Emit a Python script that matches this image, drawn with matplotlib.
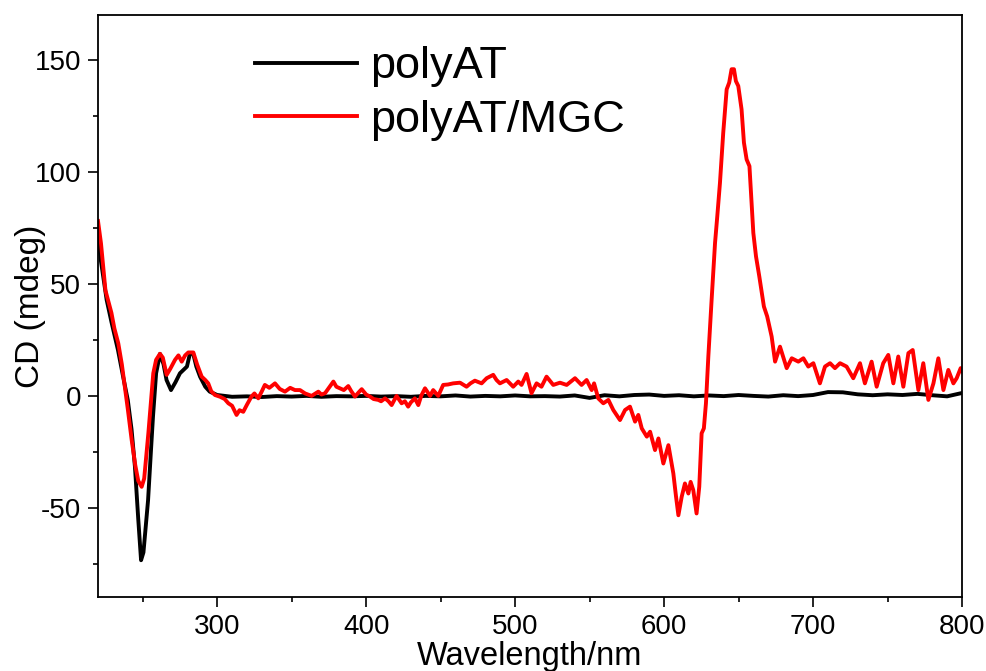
import matplotlib
matplotlib.use("Agg")
import matplotlib.pyplot as plt
from matplotlib.ticker import MultipleLocator

plt.rcParams['font.family'] = ['Liberation Sans', 'DejaVu Sans']
plt.rcParams['axes.unicode_minus'] = False

# polyAT/MGC (red), values
wl_mgc = [220, 222, 225, 227, 229, 231, 233.6, 236, 238, 240, 242.6, 245, 247, 249.3, 251,
          253.8, 255.5, 257.1, 259, 261.6, 263.5, 266.1, 268.5, 271.7, 274, 276.2, 278.5,
          280.6, 284, 286.5, 289.6, 292, 294, 296, 298.5, 302, 305, 307.5, 310, 313, 315,
          317.5, 320, 323, 325, 327.6, 330, 332, 335, 338.8, 342, 345.5, 349, 352.2, 355.6,
          359, 363.4, 367.9, 370, 372.4, 375, 378, 380, 382.4, 385, 388, 390, 392.5, 395,
          397, 400, 402.6, 405, 408.2, 410, 412.7, 415, 417.1, 420.4, 423.8, 426, 428.2, 430,
          432.7, 435, 437, 439.5, 442.9, 445, 448.4, 451.7, 455, 458.4, 463, 465, 467.4, 470,
          473, 477.5, 480.9, 485.3, 487.5, 489.8, 494.3, 498.7, 502.1, 504.3, 507.7, 511,
          514.4, 517.7, 521.1, 525.6, 530.1, 534.6, 540.2, 544.6, 548, 551.4, 553, 555.8,
          559.2, 562.6, 565.9, 570.4, 573.8, 577.1, 580.5, 582.7, 585, 588.4, 590.6, 593.9,
          596.2, 599.5, 602.9, 606.2, 608, 609.6, 611.8, 614, 616.3, 617.8, 619.6, 621.8,
          623.6, 625.2, 626.7, 628.1, 629.7, 631.9, 634.2, 635.7, 637.5, 639.7, 642, 643.7,
          645.3, 646.9, 648.2, 649.8, 652, 653.6, 655.4, 657.3, 659.9, 661.7, 663.9, 667,
          669.2, 672.2, 674.5, 677.8, 682.3, 685.7, 690.1, 693.5, 696.8, 700.2, 704.6, 708,
          711.4, 714.7, 718.1, 722.5, 727, 731.5, 734.8, 739.3, 742.7, 747.1, 750.5, 753.9,
          757.2, 760.6, 764, 766.9, 770.7, 774, 777.4, 780.8, 784.1, 787.5, 790.8, 794.2,
          796.4, 799.1, 800]
cd_mgc = [78, 68, 47, 42, 37, 30, 23.4, 14, 4, -6, -19.8, -31, -38, -40.7, -37,
          -16.8, -3, 10, 16, 18.7, 17, 9.3, 12, 16, 18, 15.2, 18,
          19.3, 19.3, 14, 8.5, 7, 5.5, 2, 0.3, -0.5, -1.5, -3.4, -4.5, -8.6, -6.5,
          -7.2, -4, -0.4, 1, -1.2, 2, 4.8, 3.5, 5.5, 3, 1.8, 3.5, 2.5, 2.5,
          1, -0.1, 1.8, 0.5, 1.1, 3.5, 6.3, 4, 3.3, 2.5, 4.3, 2, -0.4, 1.5,
          2.9, 0.5, -0.4, -1.5, -1.9, -2.5, -1.2, -2.5, -4.2, -0.1, -3.4, -2.5, -4.9, -3,
          -1.2, -4.2, 0, 3.3, -0.1, 2.5, -0.1, 4.8, 5, 5.5, 5.8, 5, 4, 5.5,
          6.7, 5.5, 7.8, 9.3, 7, 5.5, 7, 4, 6.3, 4.8, 9.7, 1.1,
          5.5, 4, 8.5, 4.8, 5.8, 4.8, 7.8, 4.8, 7, 2.5, 5.5, -1.2,
          -3.4, -1.9, -6.4, -10.9, -6.4, -4.9, -11.6, -8.6, -14.6, -18.3, -16.1, -24.3,
          -19.1, -30.3, -22.1, -34.7, -45, -53.4, -45.2, -39.2, -43.7, -38.5, -42.2, -52.6,
          -40.7, -16.8, -14.6, -3.4, 17.5, 42.8, 68.2, 80.1, 95, 117.4, 136.8, 139.8,
          145.8, 145.8, 140.5, 138.3, 127.9, 113, 105.5, 102.5, 72.7, 62.2, 53.3, 39.8,
          35.4, 26.4, 15.2, 21.9, 12.3, 16.7, 15.2, 16.7, 13, 14.5, 5.5, 13,
          14.5, 12.3, 14.5, 13, 7.8, 14.5, 5.5, 15.2, 4, 14.5, 18.2, 5.5,
          17.5, 4, 19, 20.4, 2.5, 14.5, -1.9, 5.5, 16.7, 2.5, 11.5, 5.5,
          7.8, 12.3, 11]

# polyAT (black)
wl_at = [220, 222, 225.8, 229, 233.4, 237, 240, 242.5, 244.8, 247, 248.9, 250.5, 253.6,
         255.5, 256.9, 259, 261.6, 264, 266, 269, 272, 275, 279.7, 281.8, 284, 286, 288.5,
         292, 295, 300, 310, 320, 330, 340, 350, 360, 370, 380, 390, 400, 410, 420, 430,
         440, 450, 460, 470, 480, 490, 500, 510, 520, 530, 540, 550, 560, 570, 580, 590,
         600, 610, 620, 630, 640, 650, 660, 670, 680, 690, 700, 710, 720, 730, 740, 750,
         760, 770, 780, 790, 800]
cd_at = [72, 60, 42.8, 33, 20.4, 8, -2, -15, -31.8, -55, -73.5, -70, -46.7,
         -25, -9.4, 10, 18.7, 14, 7, 2.5, 6, 10, 13, 19, 18.5, 13, 8.5,
         4, 1.8, 0.3, -0.5, -0.3, -0.6, -0.2, -0.4, -0.1, -0.5, -0.2, -0.3, -0.1, -0.4,
         -0.2, -0.5, -0.1, -0.3, 0.1, -0.4, -0.1, -0.3, 0.1, -0.3, -0.2, -0.4, 0.1, -1,
         0.2, -0.3, 0.3, 0.5, -0.1, 0.2, -0.3, 0.1, -0.2, 0.3, -0.1, -0.4, 0.2, -0.2,
         0.3, 1.6, 1.5, 0.6, 0.2, 0.6, 0.3, 0.8, 0.2, -0.3, 1.2]

fig = plt.figure(figsize=(9.87, 6.71), dpi=100)
ax = fig.add_axes([0.0993, 0.110, 0.8754, 0.8676])

ax.plot(wl_at, cd_at, color='black', lw=2.8, label='polyAT')
ax.plot(wl_mgc, cd_mgc, color='#ff0000', lw=2.8, label='polyAT/MGC')

ax.set_xlim(220, 800)
ax.set_ylim(-90, 170)
ax.xaxis.set_major_locator(MultipleLocator(100))
ax.xaxis.set_minor_locator(MultipleLocator(50))
ax.yaxis.set_major_locator(MultipleLocator(50))
ax.yaxis.set_minor_locator(MultipleLocator(25))

ax.tick_params(which='major', direction='out', length=7, width=1.2, labelsize=20, pad=5)
ax.tick_params(which='minor', direction='out', length=3.6, width=1.2)
ax.tick_params(top=False, right=False)
for s in ax.spines.values():
    s.set_linewidth(1.3)

ax.set_xlabel('Wavelength/nm', fontsize=23.5, labelpad=0.5)
ax.set_ylabel('CD (mdeg)', fontsize=24, labelpad=-8)

ax.legend(loc='upper left', bbox_to_anchor=(0.182, 0.946), frameon=False,
          fontsize=32.5, handlelength=2.26, handletextpad=0.29, labelspacing=0.28,
          borderpad=0, borderaxespad=0)

fig.savefig('out.png', dpi=100)
